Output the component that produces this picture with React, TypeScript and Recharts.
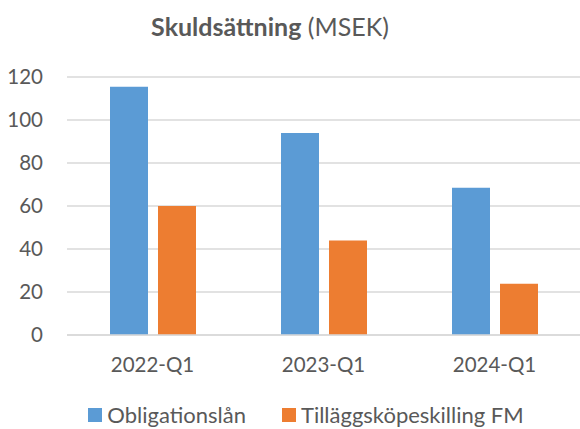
import React from 'react';
import { BarChart, Bar, XAxis, YAxis, CartesianGrid, Legend } from 'recharts';

const categories = ['2022-Q1', '2023-Q1', '2024-Q1'];
const obligationslan = [115.5, 94, 68.5];
const tillaggskopeskilling = [60, 44, 23.8];
const yTicks = [0, 20, 40, 60, 80, 100, 120];

const data = categories.map((c, i) => ({
  period: c,
  oblig: obligationslan[i],
  tillagg: tillaggskopeskilling[i],
}));

const FONT = "Lato, 'Open Sans', sans-serif";
const TEXT = '#595959';

const renderLegend = (props: any) => {
  const { payload } = props;
  return (
    <div style={{ display: 'flex', justifyContent: 'center', gap: 36, paddingLeft: 32, paddingTop: 2 }}>
      {payload.map((entry: any) => (
        <div key={entry.value} style={{ display: 'flex', alignItems: 'center', gap: 5 }}>
          <span style={{ width: 14, height: 14, background: entry.color, display: 'inline-block' }} />
          <span style={{ color: TEXT, fontSize: 22, fontFamily: FONT, lineHeight: '28px' }}>{entry.value}</span>
        </div>
      ))}
    </div>
  );
};

export default function App() {
  return (
    <div style={{ position: 'absolute', left: 0, top: 0, width: 580, height: 429, background: '#fff', fontFamily: FONT }}>
      <div style={{ position: 'absolute', top: 11, left: 0, width: 540, textAlign: 'center', fontSize: 25, color: TEXT }}>
        <b>Skuldsättning</b> (MSEK)
      </div>
      <BarChart
        width={580}
        height={429}
        data={data}
        margin={{ top: 77, right: 0, left: 0, bottom: 0 }}
        barSize={38}
        barGap={10}
      >
        <CartesianGrid vertical={false} stroke="#d9d9d9" strokeWidth={1.5} />
        <XAxis
          dataKey="period"
          axisLine={{ stroke: '#d9d9d9', strokeWidth: 1.5 }}
          tickLine={false}
          height={64}
          tickMargin={16}
          tick={{ fill: TEXT, fontSize: 20.5, fontFamily: FONT }}
        />
        <YAxis
          domain={[0, 120]}
          ticks={yTicks}
          width={67}
          axisLine={false}
          tickLine={false}
          tickMargin={18}
          tick={{ fill: TEXT, fontSize: 20.5, fontFamily: FONT }}
        />
        <Legend verticalAlign="bottom" height={30} content={renderLegend} />
        <Bar dataKey="oblig" name="Obligationslån" fill="#5b9bd5" isAnimationActive={false} />
        <Bar dataKey="tillagg" name="Tilläggsköpeskilling FM" fill="#ed7d31" isAnimationActive={false} />
      </BarChart>
    </div>
  );
}
